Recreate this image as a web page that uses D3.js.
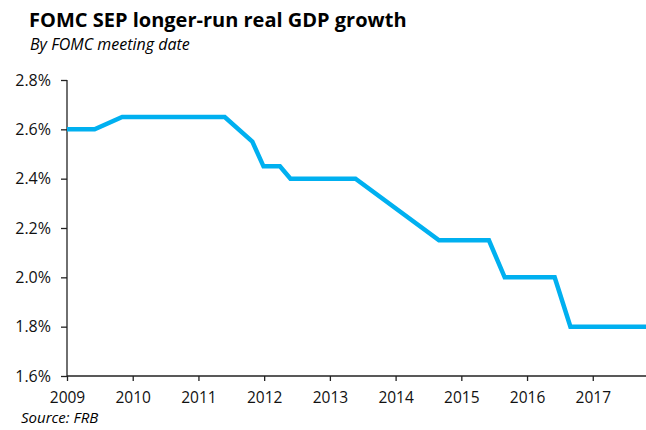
<!DOCTYPE html>
<meta charset="utf-8">
<style>
body { margin: 0; background: #fff; }
svg text { font-family: "Open Sans", "Noto Sans", sans-serif; fill: #000; }
.axis path, .axis line { stroke: #222; stroke-width: 1.3; }
.axis text { font-size: 16px; fill: #111; }
.axis.x text { font-size: 15.5px; }
</style>
<svg width="646" height="430"></svg>
<script src="https://cdn.jsdelivr.net/npm/d3@7/dist/d3.min.js"></script>
<script>

// decimal year of each FOMC meeting and the longer-run GDP median (%)
var meetingDates = [2009.0, 2009.42, 2009.84, 2011.40, 2011.82, 2011.99, 2012.24, 2012.40,
                    2013.39, 2014.66, 2015.42, 2015.66, 2016.42, 2016.66, 2017.81];
var gdpValues = [2.6, 2.6, 2.65, 2.65, 2.55, 2.45, 2.45, 2.4,
                 2.4, 2.15, 2.15, 2.0, 2.0, 1.8, 1.8];
var yearTicks = [2009, 2010, 2011, 2012, 2013, 2014, 2015, 2016, 2017];
var valueTicks = [1.6, 1.8, 2.0, 2.2, 2.4, 2.6, 2.8];

var svg = d3.select("svg"),
    margin = {top: 80, right: 0, bottom: 54, left: 67},
    width = +svg.attr("width") - margin.left - margin.right,
    height = +svg.attr("height") - margin.top - margin.bottom,
    g = svg.append("g").attr("transform", "translate(" + margin.left + "," + margin.top + ")");

var x = d3.scaleLinear()
    .domain([2009, 2017.81])
    .range([0, width]);

var y = d3.scaleLinear()
    .domain([1.6, 2.8])
    .range([height, 0]);

svg.append("text")
    .attr("x", 29).attr("y", 27)
    .style("font-size", "20px").style("font-weight", "bold")
    .text("FOMC SEP longer-run real GDP growth");

svg.append("text")
    .attr("x", 30).attr("y", 50)
    .style("font-size", "16px").style("font-style", "italic")
    .text("By FOMC meeting date");

g.append("g")
    .attr("class", "axis")
    .call(d3.axisLeft(y).tickValues(valueTicks).tickSize(6).tickPadding(10)
        .tickFormat(function(d) { return d.toFixed(1) + "%"; }));

g.append("g")
    .attr("class", "axis x")
    .attr("transform", "translate(0," + height + ")")
    .call(d3.axisBottom(x).tickValues(yearTicks).tickSize(5).tickPadding(11)
        .tickFormat(d3.format("d")));

g.selectAll(".axis .domain").attr("d", function() {
    return d3.select(this.parentNode).attr("transform") ? "M0,0H" + width : "M0,0V" + height;
});

var line = d3.line()
    .x(function(d, i) { return x(meetingDates[i]); })
    .y(function(d) { return y(d); });

g.append("path")
    .datum(gdpValues)
    .attr("fill", "none")
    .attr("stroke", "#00b0f0")
    .attr("stroke-width", 4.5)
    .attr("stroke-linejoin", "miter")
    .attr("d", line);

svg.append("text")
    .attr("x", 21).attr("y", 423)
    .style("font-size", "15px").style("font-style", "italic")
    .text("Source: FRB");

</script>
